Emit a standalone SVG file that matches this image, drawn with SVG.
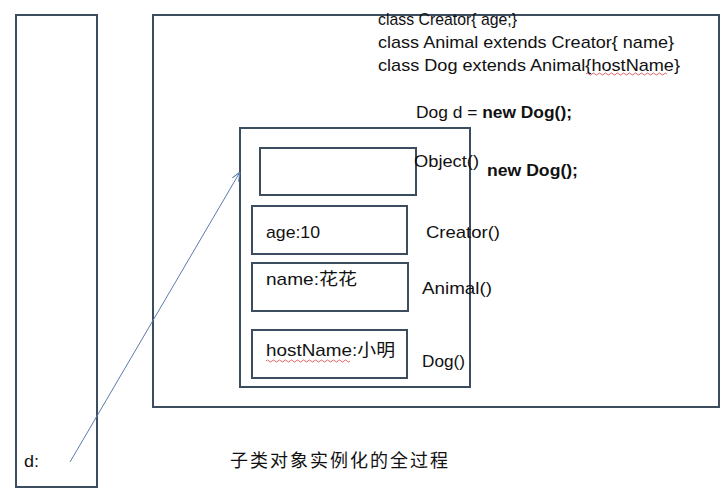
<svg xmlns="http://www.w3.org/2000/svg" width="725" height="489" viewBox="0 0 725 489">
<style>
.box{fill:none;stroke:#3b4d5f;stroke-width:2}
.t{font-family:"Liberation Sans",Arial,sans-serif;font-size:17px;fill:#111}
.b{font-weight:bold}
.cjk{font-family:"Liberation Sans","Noto Sans CJK SC",sans-serif;font-size:17px;fill:#111}
.sq{fill:none;stroke:#d04040;stroke-width:0.8}
.conn{fill:none;stroke:#5b7bab;stroke-width:1}
</style>
<defs>
<marker id="ah" viewBox="0 0 10 10" refX="10" refY="5" markerWidth="9" markerHeight="9" orient="auto" markerUnits="userSpaceOnUse">
<path d="M0,1 L10,5 L0,9" fill="none" stroke="#5b7bab" stroke-width="1.2"/>
</marker>
</defs>
<rect width="725" height="489" fill="#fff"/>
<g id="stack">
<rect class="box" x="16" y="15" width="81" height="472"/>
<text class="t" x="24" y="467" textLength="15" lengthAdjust="spacingAndGlyphs">d:</text>
</g>
<g id="heap">
<rect class="box" x="153" y="15" width="566" height="392"/>
<text class="t" x="378" y="25" textLength="139" lengthAdjust="spacingAndGlyphs">class Creator{ age;}</text>
<text class="t" x="378" y="48" textLength="296" lengthAdjust="spacingAndGlyphs">class Animal extends Creator{ name}</text>
<text class="t" x="378" y="71" textLength="302" lengthAdjust="spacingAndGlyphs">class Dog extends Animal{hostName}</text>
<path class="sq" d="M586,74 q1.5,-2 3,0 t3,0 t3,0 t3,0 t3,0 t3,0 t3,0 t3,0 t3,0 t3,0 t3,0 t3,0 t3,0 t3,0 t3,0 t3,0 t3,0 t3,0 t3,0 t3,0 t3,0 t3,0 t3,0 t3,0 t3,0 t3,0 t3,0"/>
<text class="t" x="416" y="118" textLength="156" lengthAdjust="spacingAndGlyphs">Dog d = <tspan class="b">new Dog();</tspan></text>
</g>
<g id="object">
<rect class="box" x="240" y="128" width="230" height="259"/>
<text class="t b" x="487" y="176" textLength="91" lengthAdjust="spacingAndGlyphs">new Dog();</text>
</g>
<g id="objectPart">
<rect class="box" x="260" y="148" width="156" height="47"/>
<text class="t" x="414" y="167" textLength="65" lengthAdjust="spacingAndGlyphs">Object()</text>
</g>
<g id="creatorPart">
<rect class="box" x="252" y="206" width="155" height="48"/>
<text class="t" x="266" y="238" textLength="54" lengthAdjust="spacingAndGlyphs">age:10</text>
<text class="t" x="426" y="238" textLength="74" lengthAdjust="spacingAndGlyphs">Creator()</text>
</g>
<g id="animalPart">
<rect class="box" x="252" y="263" width="156" height="48"/>
<text class="cjk" x="266" y="285" textLength="91" lengthAdjust="spacingAndGlyphs">name:花花</text>
<text class="t" x="422" y="294" textLength="70" lengthAdjust="spacingAndGlyphs">Animal()</text>
</g>
<g id="dogPart">
<rect class="box" x="252" y="330" width="155" height="48"/>
<text class="cjk" x="266" y="356" textLength="129" lengthAdjust="spacingAndGlyphs">hostName:小明</text>
<path class="sq" d="M266,361 q1.5,-2 3,0 t3,0 t3,0 t3,0 t3,0 t3,0 t3,0 t3,0 t3,0 t3,0 t3,0 t3,0 t3,0 t3,0 t3,0 t3,0 t3,0 t3,0 t3,0 t3,0 t3,0 t3,0 t3,0 t3,0 t3,0 t3,0 t3,0 t3,0"/>
<text class="t" x="422" y="367" textLength="43" lengthAdjust="spacingAndGlyphs">Dog()</text>
</g>
<g id="caption">
<text class="cjk" x="230" y="467" textLength="218" lengthAdjust="spacing" style="font-size:18px">子类对象实例化的全过程</text>
</g>
<g id="connectors">
<line class="conn" x1="70" y1="462" x2="240" y2="172" marker-end="url(#ah)"/>
</g>
</svg>
